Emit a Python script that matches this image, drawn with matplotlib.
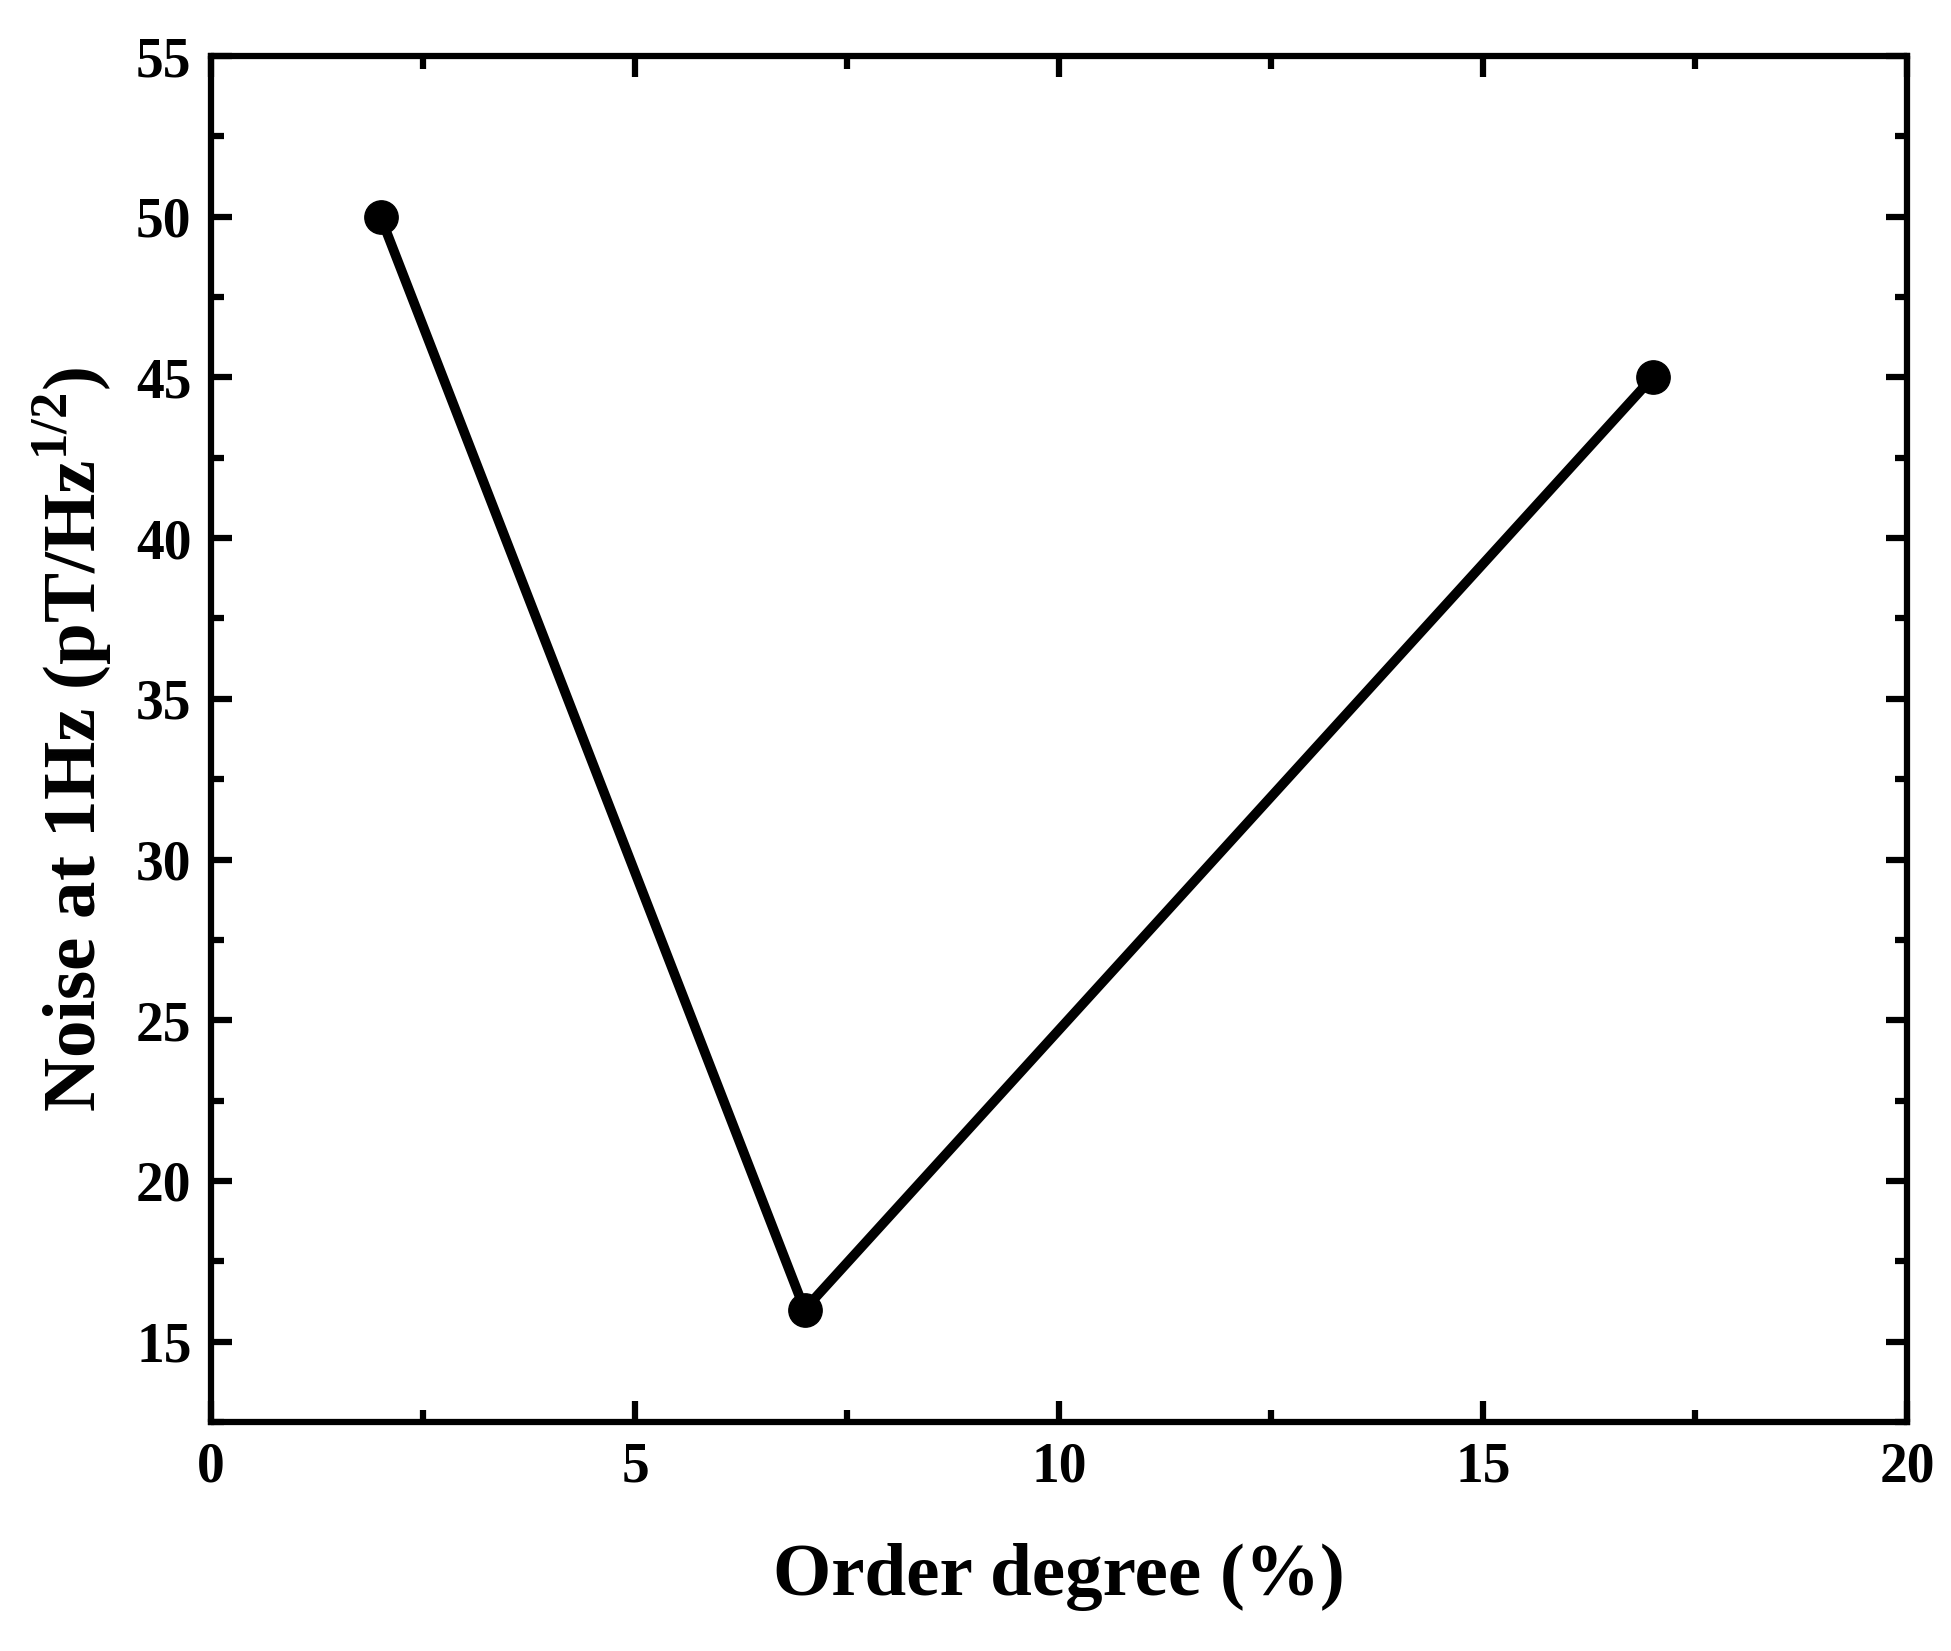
import matplotlib.pyplot as plt
from matplotlib.ticker import MultipleLocator

order_degree = [2, 7, 17]
noise = [50, 16, 45]

plt.rcParams["font.family"] = ["Liberation Serif", "DejaVu Serif"]
plt.rcParams["font.weight"] = "bold"
plt.rcParams["mathtext.fontset"] = "custom"
plt.rcParams["mathtext.rm"] = "Liberation Serif:bold"
plt.rcParams["mathtext.bf"] = "Liberation Serif:bold"

fig = plt.figure(figsize=(19.51, 16.51), dpi=100)
ax = fig.add_axes([211 / 1951, 1 - 1422 / 1651, 1696 / 1951, 1366 / 1651])

ax.plot(order_degree, noise, color="black", lw=7, marker="o", markersize=24)

ax.set_xlim(0, 20)
ax.set_ylim(12.5, 55)
ax.xaxis.set_major_locator(MultipleLocator(5))
ax.xaxis.set_minor_locator(MultipleLocator(2.5))
ax.yaxis.set_major_locator(MultipleLocator(5))
ax.yaxis.set_minor_locator(MultipleLocator(2.5))
ax.tick_params(which="both", direction="in", top=True, right=True, width=4.5, labelsize=40, pad=14)
ax.tick_params(which="major", length=15)
ax.tick_params(which="minor", length=9)
for s in ax.spines.values():
    s.set_linewidth(4.5)

ax.set_xlabel("Order degree (%)", fontsize=54, fontweight="bold", labelpad=36)
ax.set_ylabel(r"Noise at 1Hz (pT/Hz$^{\mathbf{1/2}}$)", fontsize=54, fontweight="bold", labelpad=16)

fig.savefig("out.png", dpi=100)
